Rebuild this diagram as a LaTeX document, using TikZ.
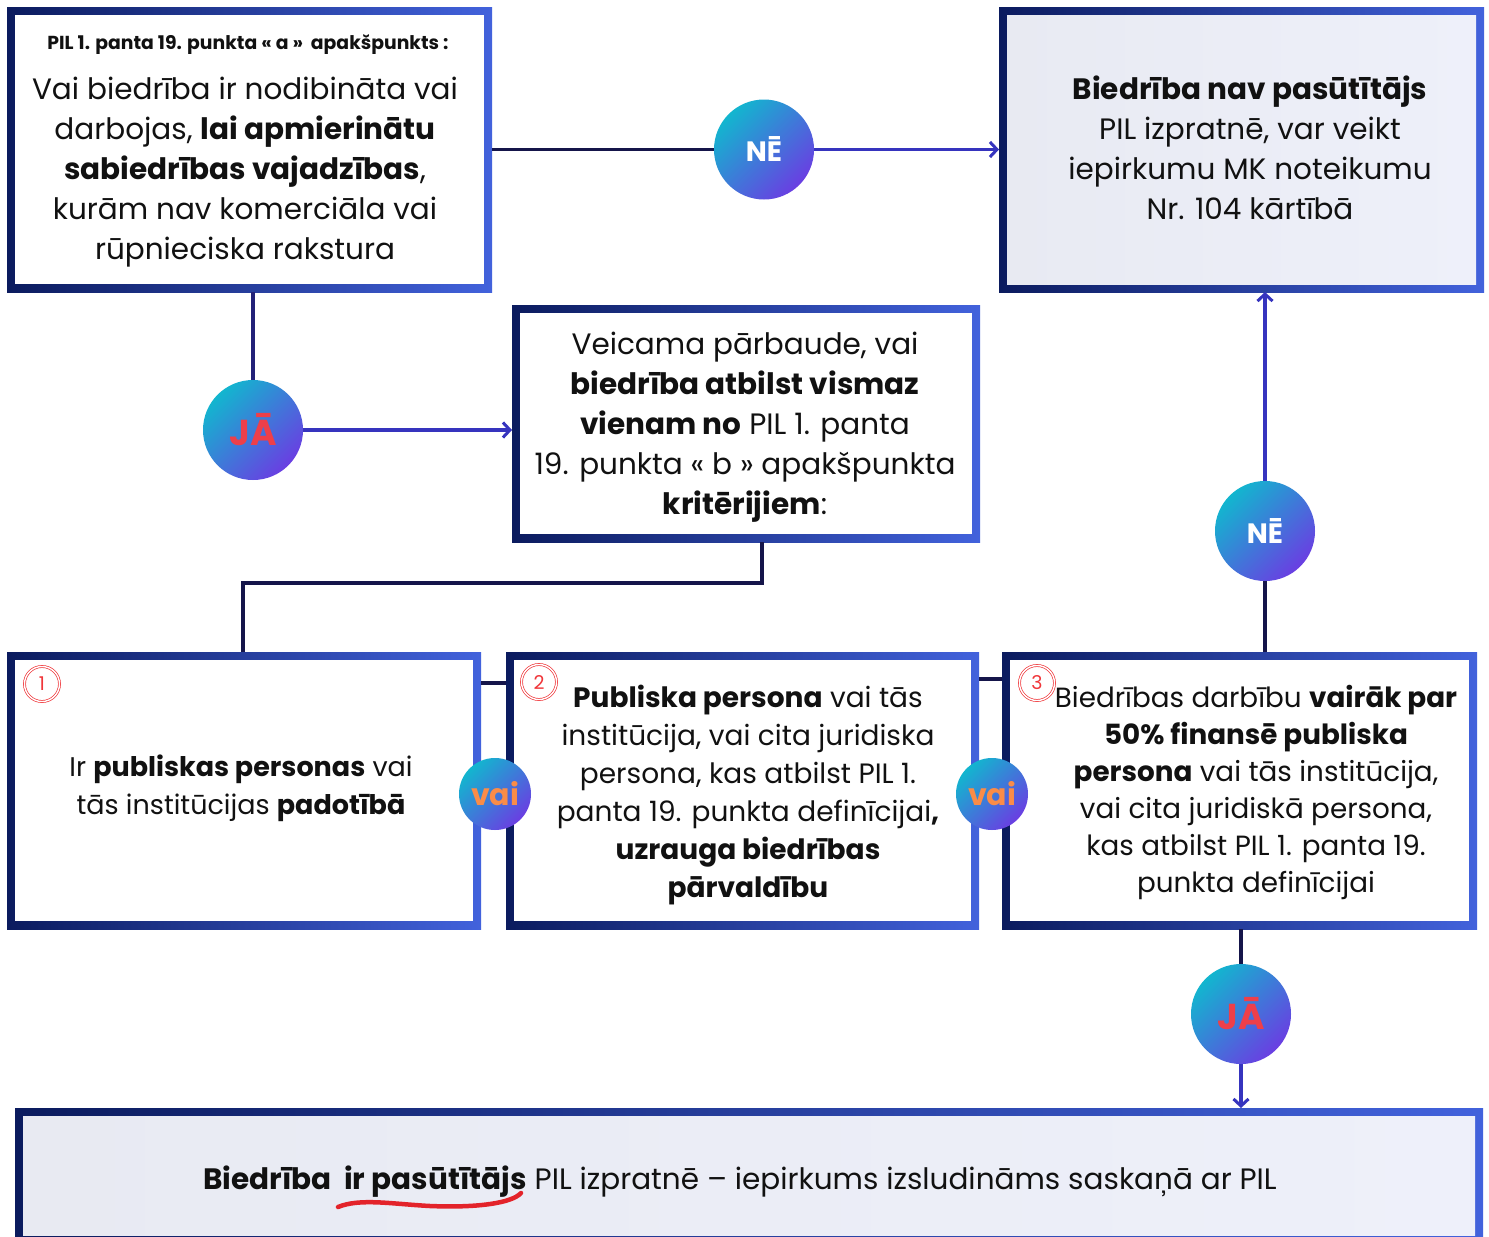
\documentclass[tikz,border=0pt]{standalone}
\usepackage{fontspec}
\setmainfont{Poppins}
\usetikzlibrary{arrows.meta}
\definecolor{navyL}{HTML}{0B1B5E}
\definecolor{blueR}{HTML}{4262DC}
\definecolor{fillL}{HTML}{E8EAF2}
\definecolor{fillR}{HTML}{EEF0FA}
\definecolor{cyanC}{HTML}{12B6CF}
\definecolor{purpC}{HTML}{6A3EE2}
\definecolor{jaRed}{HTML}{EE3F4A}
\definecolor{vaiOr}{HTML}{FA8C48}
\definecolor{numRed}{HTML}{F0363A}
\definecolor{lnDark}{HTML}{15154A}
\definecolor{lnBlue}{HTML}{3634BE}
\definecolor{txt}{HTML}{111111}
\definecolor{squig}{HTML}{E3232A}
\tikzset{
  gframe/.style={rectangle, inner sep=0pt, outer sep=0pt, path picture={
      \shade[left color=navyL, right color=blueR]
        (path picture bounding box.south west) rectangle (path picture bounding box.north east);
      \path[#1]
        ([shift={(8pt,8pt)}]path picture bounding box.south west) rectangle
        ([shift={(-8pt,-8pt)}]path picture bounding box.north east);
  }},
  btext/.style={align=center, text=txt, inner sep=0pt, font=\fontsize{29.5}{40}\selectfont},
  ctext/.style={align=center, text=txt, inner sep=0pt, font=\fontsize{28}{38}\selectfont},
  circ/.style={circle, minimum size=100pt, inner sep=0pt, top color=cyanC, bottom color=purpC, shading angle=45, font=\bfseries\fontsize{28}{28}\selectfont},
  vaic/.style={circle, minimum size=72pt, inner sep=0pt, top color=cyanC, bottom color=purpC, shading angle=45, text=vaiOr, font=\bfseries\fontsize{30}{30}\selectfont},
  numc/.style={circle, draw=numRed, double=white, double distance=1.4pt, line width=0.7pt, minimum size=35pt, inner sep=0pt, text=numRed, font=\fontsize{19}{19}\selectfont},
  lnd/.style={draw=lnDark, line width=3.5pt},
  lna/.style={draw=lnBlue, line width=3.5pt, -{Straight Barb[length=7pt,width=15pt,line width=3pt]}},
}
\begin{document}
\begin{tikzpicture}[x=1pt,y=-1pt]
\useasboundingbox (0,0) rectangle (1489,1237);
\clip (0,0) rectangle (1489,1237);
\fill[white] (0,0) rectangle (1489,1237);

% frames
\node[gframe={fill=white}, minimum width=485pt, minimum height=285pt] (A) at (249.5,149.5) {};
\node[gframe={left color=fillL,right color=fillR}, minimum width=485pt, minimum height=285pt] (B) at (1241.5,149.5) {};
\node[gframe={fill=white}, minimum width=468pt, minimum height=237pt] (C) at (746,423.5) {};
\node[gframe={fill=white}, minimum width=474pt, minimum height=277pt] (b1) at (244,790.5) {};
\node[gframe={fill=white}, minimum width=473pt, minimum height=277pt] (b2) at (742.5,790.5) {};
\node[gframe={fill=white}, minimum width=475pt, minimum height=277pt] (b3) at (1239.5,790.5) {};
\node[gframe={left color=fillL,right color=fillR}, minimum width=1468pt, minimum height=135pt] (D) at (749,1175.5) {};

% texts
\node[align=center, text=txt, inner sep=0pt, font=\bfseries\fontsize{18.8}{20}\selectfont] (Ah) at (248,45) {PIL 1. panta 19. punkta « a »\ \ apakšpunkts :};
\node[btext] (At) at (245,172) {Vai biedrība ir nodibināta vai\\darbojas, \textbf{lai apmierinātu}\\\textbf{sabiedrības vajadzības},\\kurām nav komerciāla vai\\rūpnieciska rakstura};
\node[btext] (Bt) at (1250,148) {\textbf{Biedrība nav pasūtītājs}\\PIL izpratnē, var veikt\\iepirkumu MK noteikumu\\Nr. 104 kārtībā};
\node[btext] (Ct) at (745,427) {Veicama pārbaude, vai\\\textbf{biedrība atbilst vismaz}\\\textbf{vienam no} PIL 1. panta\\19. punkta « b » apakšpunkta\\\textbf{kritērijiem}:};
\node[ctext, font=\fontsize{27}{38}\selectfont] (b1t) at (241,788) {Ir \textbf{publiskas personas} vai\\tās institūcijas \textbf{padotībā}};
\node[ctext] (b2t) at (748,795) {\textbf{Publiska persona} vai tās\\institūcija, vai cita juridiska\\persona, kas atbilst PIL 1.\\panta 19. punkta definīcijai\textbf{,}\\\textbf{uzrauga biedrības}\\\textbf{pārvaldību}};
\node[ctext, font=\fontsize{27.8}{37}\selectfont] (b3t) at (1256,792) {Biedrības darbību \textbf{vairāk par}\\\textbf{50\% finansē publiska}\\\textbf{persona} vai tās institūcija,\\vai cita juridiskā persona,\\kas atbilst PIL 1. panta 19.\\punkta definīcijai};
\node[btext] (Dt) at (740,1182) {\textbf{Biedrība\ \ ir pasūtītājs} PIL izpratnē – iepirkums izsludināms saskaņā ar PIL};

% number markers
\node[numc] (n1) at (42,684) {1};
\node[numc] (n2) at (539,682) {2};
\node[numc] (n3) at (1037,683) {3};

% decision circles
\node[circ, text=white] (NE1) at (764,149.5) {NĒ};
\node[circ, text=jaRed, font=\bfseries\fontsize{36}{36}\selectfont] (J1) at (253,430) {JĀ};
\node[circ, text=white] (NE2) at (1265,531) {NĒ};
\node[circ, text=jaRed, font=\bfseries\fontsize{36}{36}\selectfont] (J2) at (1241,1014) {JĀ};

% connectors
\draw[lnd] (A.east) -- (NE1.west);
\draw[lna] (NE1.east) -- (B.west);
\draw[lnd, draw=lnDark!60!lnBlue] (J1 |- A.south) -- (J1.north);
\draw[lna] (J1.east) -- (C.west |- J1.east);
\coordinate (k1) at (762,583);
\coordinate (k2) at (243,583);
\draw[lnd, line join=miter] (k1 |- C.south) -- (k1) -- (k2) -- (k2 |- b1.north);
\coordinate (h1) at (0,683);
\coordinate (h2) at (0,679);
\draw[lnd] (b1.east |- h1) -- (b2.west |- h1);
\draw[lnd] (b2.east |- h2) -- (b3.west |- h2);
\draw[lnd] (NE2 |- b3.north) -- (NE2.south);
\draw[lna] (NE2.north) -- (NE2 |- B.south);
\draw[lnd] (J2 |- b3.south) -- (J2.north);
\draw[lna] (J2.south) -- (J2 |- D.north);

% vai circles
\node[vaic] (v1) at (495,794) {vai};
\node[vaic] (v2) at (992,794) {vai};

% red squiggle under "ir pasūtītājs"
\draw[squig, line width=4.5pt, line cap=round] (338,1207) .. controls (360,1198) and (392,1204) .. (430,1206) .. controls (478,1208) and (512,1203) .. (521,1193);
\end{tikzpicture}
\end{document}
